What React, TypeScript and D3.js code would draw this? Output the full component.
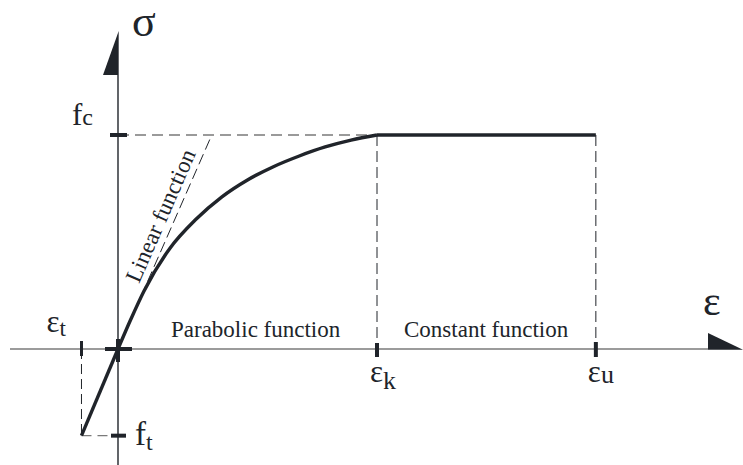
import React from "react";
import * as d3 from "d3";

// Stress-strain diagram (normalised: eps_k = 1, f_c = 1)
const parabolaStrain = [0, 0.05, 0.1, 0.2, 0.3, 0.4, 0.5, 0.6, 0.7, 0.8, 0.9, 1];
const parabolaStress = [0, 0.14, 0.27, 0.47, 0.605, 0.71, 0.79, 0.852, 0.902, 0.944, 0.976, 1];

const epsK = 1;
const epsU = 1.845;
const epsT = -0.141;
const fc = 1;
const ft = -0.405;
const linearReach = 0.362; // strain where the linear (initial) branch reaches f_c

const regionLabels = ["Parabolic function", "Constant function"];
const symbolLabels = ["σ", "ε"];

const W = 743;
const H = 465;
const INK = "#20242a";
const GREY = "#7a7a7a";

export default function App() {
  const x = d3.scaleLinear().domain([0, 1]).range([118, 377]);
  const y = d3.scaleLinear().domain([0, 1]).range([349, 135]);

  const x0 = x(0);
  const y0 = y(0);

  const curve = d3
    .line<number>()
    .x((_, i) => x(parabolaStrain[i]))
    .y((d) => y(d))
    .curve(d3.curveMonotoneX);
  const parabolaPath = curve(parabolaStress) ?? "";

  const straight = d3.line<[number, number]>().x((d) => x(d[0])).y((d) => y(d[1]));
  const tensionPath = straight([
    [epsT, ft],
    [0, 0],
  ]) ?? "";
  const constantPath = straight([
    [epsK, fc],
    [epsU, fc],
  ]) ?? "";

  // linear branch drawn as a dashed line from near the origin to f_c
  const linStart = 0.11;
  const linearAngle =
    (Math.atan2(y(fc) - y(0), x(linearReach) - x(0)) * 180) / Math.PI;

  const tickW = 4;
  const ff = { fontFamily: '"Times New Roman"' };

  return (
    <svg width={W} height={H} style={{ position: "absolute", left: 0, top: 0 }}>
      {/* horizontal axis */}
      <line x1={10} x2={708} y1={y0} y2={y0} stroke={GREY} strokeWidth={1.6} />
      <path d={`M708,${y0 + 0.8} L708,${y0 - 16} L743,${y0 + 0.8} Z`} fill={INK} />

      {/* vertical axis */}
      <line x1={x0} x2={x0} y1={75} y2={H} stroke={INK} strokeWidth={1.4} />
      <path d={`M${x0 + 0.7},31 L${x0 + 0.7},75 L103,75 Z`} fill={INK} />

      {/* dashed guides */}
      <g fill="none" strokeWidth={1.3}>
        <line x1={x0} x2={x(epsK)} y1={y(fc)} y2={y(fc)} stroke={GREY} strokeDasharray="11 6" />
        <line x1={x(epsK)} x2={x(epsK)} y1={y(fc)} y2={y0} stroke={INK} strokeWidth={1} strokeDasharray="11 5" />
        <line x1={x(epsU)} x2={x(epsU)} y1={y(fc)} y2={y0} stroke={INK} strokeWidth={1} strokeDasharray="11 5" />
        <line x1={x(epsT)} x2={x(epsT)} y1={y0} y2={y(ft)} stroke={INK} strokeWidth={1} strokeDasharray="10 5" />
        <line x1={x(epsT)} x2={x0} y1={y(ft)} y2={y(ft)} stroke={GREY} strokeDasharray="10 6" />
        <line
          x1={x(linStart * linearReach)}
          y1={y(linStart)}
          x2={x(linearReach)}
          y2={y(fc)}
          stroke={INK}
          strokeWidth={1}
          strokeDasharray="11 5"
        />
      </g>

      {/* stress-strain curve */}
      <g fill="none" stroke={INK} strokeWidth={3.4} strokeLinecap="butt">
        <path d={tensionPath} />
        <path d={parabolaPath} />
        <path d={constantPath} />
      </g>

      {/* ticks */}
      <g stroke={INK} strokeWidth={tickW}>
        <line x1={x0 - 8} x2={x0 + 9} y1={y(fc)} y2={y(fc)} />
        <line x1={x0 - 7} x2={x0 + 8} y1={y(ft)} y2={y(ft)} />
        <line x1={x0 - 13} x2={x0 + 14} y1={y0} y2={y0} />
        <line x1={x0} x2={x0} y1={y0 - 10} y2={y0 + 13} />
        <line x1={x(epsT)} x2={x(epsT)} y1={y0 - 8} y2={y0 + 7} strokeWidth={3} />
        <line x1={x(epsK)} x2={x(epsK)} y1={y0 - 6} y2={y0 + 8} />
        <line x1={x(epsU)} x2={x(epsU)} y1={y0 - 7} y2={y0 + 8} />
      </g>

      {/* labels */}
      <text style={ff} fill={INK} x={132} y={36} fontSize={44}>{symbolLabels[0]}</text>
      <text style={ff} fill={INK} x={703} y={315} fontSize={42}>{symbolLabels[1]}</text>

      <text style={ff} fill={INK} x={72} y={125} fontSize={31}>
        f<tspan fontSize={24}>c</tspan>
      </text>
      <text style={ff} fill={INK} x={135} y={445} fontSize={33}>
        f<tspan fontSize={24} dy={5}>t</tspan>
      </text>

      <text style={ff} fill={INK} x={x(epsT) - 35} y={332} fontSize={31}>
        {symbolLabels[1]}<tspan fontSize={23} dy={4}>t</tspan>
      </text>
      <text style={ff} fill={INK} x={x(epsK) - 7} y={382} fontSize={31}>
        {symbolLabels[1]}<tspan fontSize={26} dy={7}>k</tspan>
      </text>
      <text style={ff} fill={INK} x={x(epsU) - 8} y={382} fontSize={31}>
        {symbolLabels[1]}<tspan fontSize={26} dy={1}>u</tspan>
      </text>

      <text style={ff} fill={INK} x={171} y={337} fontSize={23}>{regionLabels[0]}</text>
      <text style={ff} fill={INK} x={404} y={337} fontSize={23}>{regionLabels[1]}</text>

      <text
        style={ff}
        fill={INK}
        x={139}
        y={284}
        fontSize={23}
        transform={`rotate(${linearAngle} 139 284)`}
      >
        Linear function
      </text>
    </svg>
  );
}
